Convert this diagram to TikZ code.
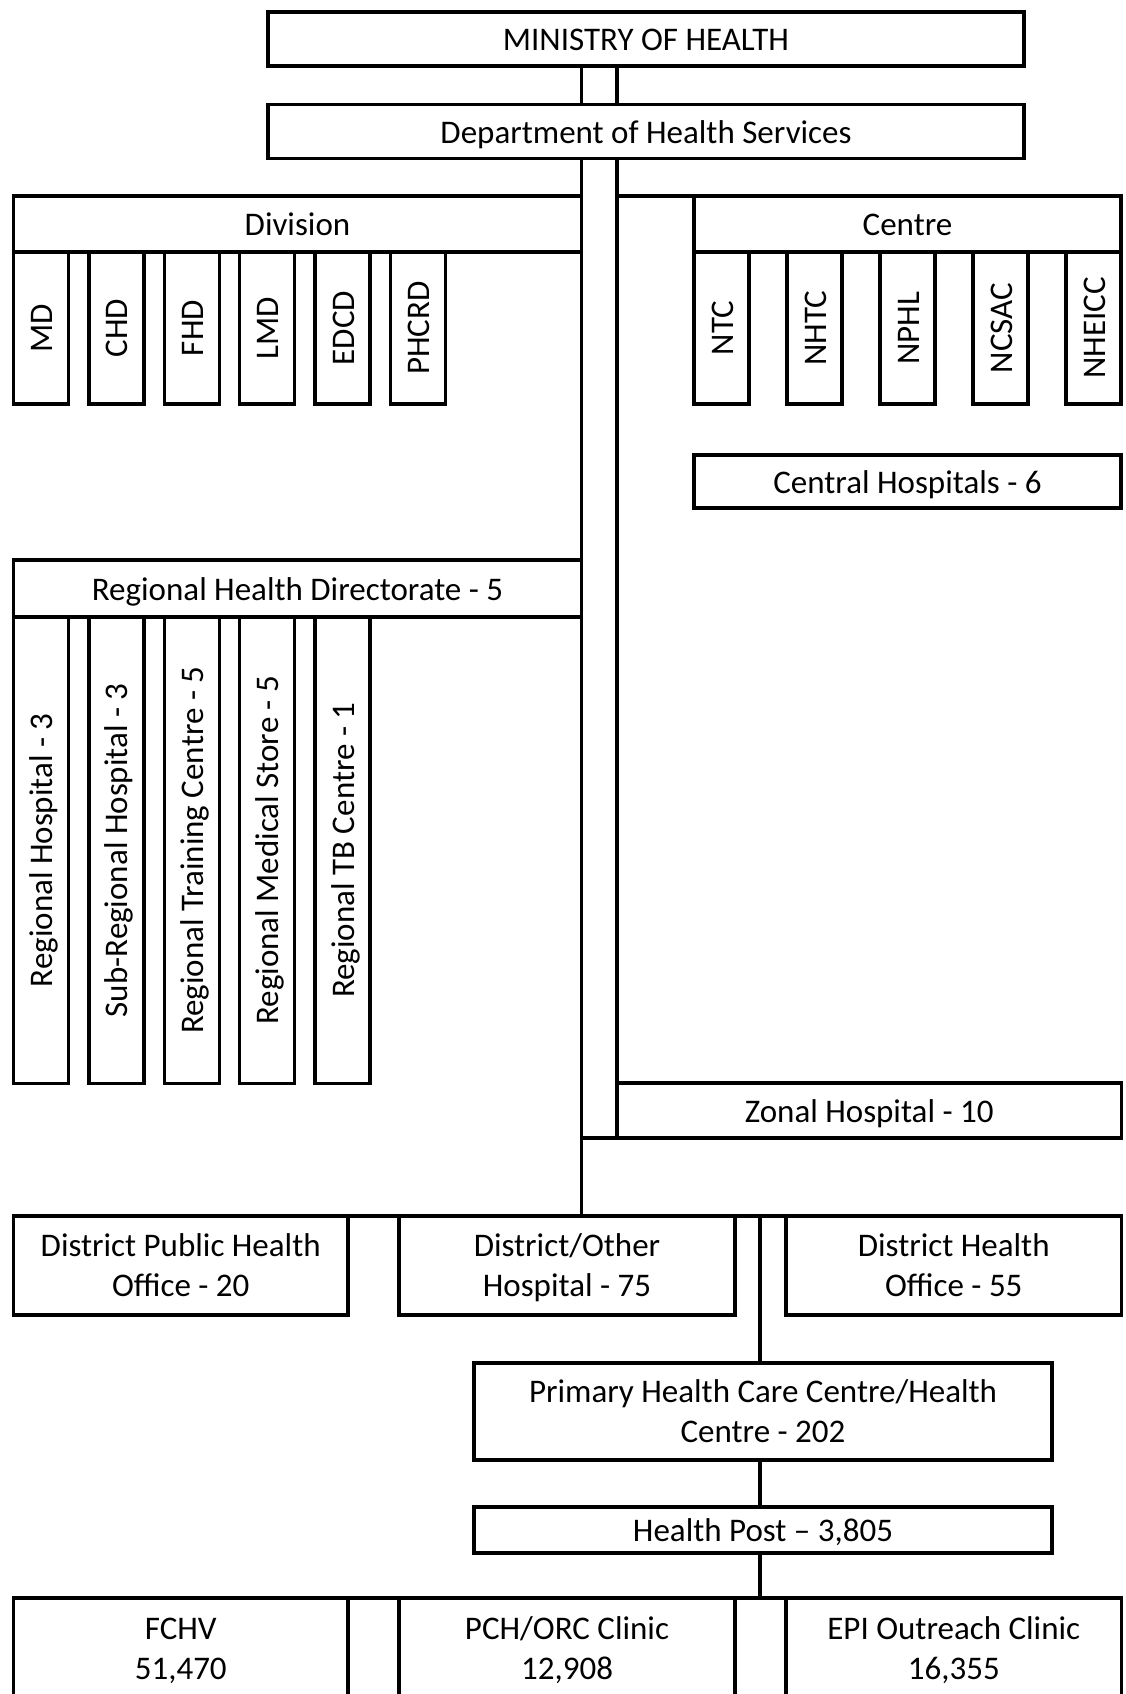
\documentclass[tikz,border=0pt]{standalone}
\usepackage{fontspec}
\setmainfont{Carlito}
\newcommand{\firstln}[1]{\vphantom{Hl}#1}
\newcommand{\lastln}[1]{\smash{#1}}
\tikzset{
  lw/.style={line width=3.4pt},
  box/.style={draw, lw, inner sep=0pt, outer sep=0pt,
    font=\fontsize{33}{40}\selectfont, text height=23pt, text depth=0pt},
  mbox/.style={draw, lw, inner sep=0pt, outer sep=0pt, align=center,
    font=\fontsize{33}{40}\selectfont},
  vbox/.style={box, rotate=90},
  link/.style={lw}
}
\begin{document}
\begin{tikzpicture}[x=1pt,y=-1pt]
\useasboundingbox (0,0) rectangle (1125,1694);
\clip (0,0) rectangle (1125,1694);
\coordinate (tL) at (581.5,0);
\coordinate (tR) at (617,0);
\coordinate (vc) at (760,0);

% top
\node[box, minimum width=756, minimum height=54] (moh) at (646,39) {MINISTRY OF HEALTH};
\node[box, minimum width=756, minimum height=54] (dhs) at (646,131.5) {Department of Health Services};

% division / centre
\node[box, minimum width=568, minimum height=56] (div) at (297.5,224) {Division};
\node[box, minimum width=427, minimum height=56] (cen) at (907.5,224) {Centre};

\foreach \nm/\cx/\txt in {md/41/MD, chd/116.4/CHD, fhd/191.8/FHD, lmd/267.2/LMD, edcd/342.6/EDCD, phcrd/418/PHCRD}
  \node[vbox, minimum width=152, minimum height=55] (\nm) at (\cx,328) {\txt};
\foreach \nm/\cx/\txt in {ntc/721.5/NTC, nhtc/814.5/NHTC, nphl/907.5/NPHL, ncsac/1000.5/NCSAC, nheicc/1093.5/NHEICC}
  \node[vbox, minimum width=152, minimum height=55] (\nm) at (\cx,328) {\txt};

\node[box, minimum width=427, minimum height=53] (central) at (907.5,481.5) {Central Hospitals - 6};

% regional
\node[box, minimum width=568, minimum height=57] (rhd) at (297.5,588.5) {Regional Health Directorate - 5};
\foreach \nm/\cx/\txt in {rh/41/Regional Hospital - 3, srh/116.4/Sub-Regional Hospital - 3, rtc/191.8/Regional Training Centre - 5, rms/267.2/Regional Medical Store - 5, rtb/342.6/Regional TB Centre - 1}
  \node[vbox, minimum width=466.5, minimum height=55] (\nm) at (\cx,850.25) {\txt};

\node[box, minimum width=504.5, minimum height=55] (zonal) at (869.25,1110.5) {Zonal Hospital - 10};

% district row
\node[mbox, minimum width=334.5, minimum height=99] (dpho) at (180.75,1265.5) {\firstln{District Public Health}\\\lastln{Office - 20}};
\node[mbox, minimum width=336, minimum height=99] (dother) at (567,1265.5) {\firstln{District/Other}\\\lastln{Hospital - 75}};
\node[mbox, minimum width=335.5, minimum height=99] (dho) at (953.75,1265.5) {\firstln{District Health}\\\lastln{Office - 55}};

\node[mbox, minimum width=578, minimum height=97] (phc) at (763,1411.5) {\firstln{Primary Health Care Centre/Health}\\\lastln{Centre - 202}};
\node[box, minimum width=578, minimum height=46] (hp) at (763,1530) {Health Post -- 3,805};

% bottom row
\node[mbox, minimum width=334.5, minimum height=100] (fchv) at (180.75,1648) {\firstln{FCHV}\\\lastln{51,470}};
\node[mbox, minimum width=336, minimum height=100] (pch) at (567,1648) {\firstln{PCH/ORC Clinic}\\\lastln{12,908}};
\node[mbox, minimum width=335.5, minimum height=100] (epi) at (953.75,1648) {\firstln{EPI Outreach Clinic}\\\lastln{16,355}};

% connectors
\draw[link] (moh.south -| tL) -- (dhs.north -| tL);
\draw[link] (moh.south -| tR) -- (dhs.north -| tR);
\draw[link] (dhs.south -| tL) -- (dother.north -| tL);
\draw[link] (dhs.south -| tR) -- (zonal.north west);
\draw[link] (zonal.south west) -- (zonal.south west -| tL);
\draw[link] (cen.north west -| tR) -- (cen.north west);
\draw[link] (dpho.north east) -- (dother.north west);
\draw[link] (dother.north east) -- (dho.north west);
\draw[link] (dho.north -| vc) -- (phc.north -| vc);
\draw[link] (phc.south -| vc) -- (hp.north -| vc);
\draw[link] (hp.south -| vc) -- (pch.north -| vc);
\draw[link] (fchv.north east) -- (pch.north west);
\draw[link] (pch.north east) -- (epi.north west);
\end{tikzpicture}
\end{document}
